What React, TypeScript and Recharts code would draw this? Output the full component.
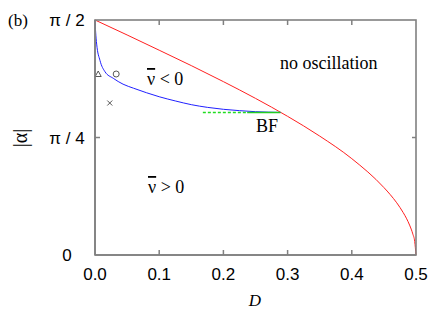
import { ComposedChart, Line, XAxis, YAxis } from 'recharts'

// red boundary (no oscillation limit)
const redD = [0, 0.05, 0.1, 0.15, 0.2, 0.25, 0.3, 0.35, 0.4, 0.45, 0.46, 0.47, 0.475, 0.48, 0.485, 0.49, 0.495, 0.498, 0.5]
const redA = [1.571, 1.471, 1.369, 1.266, 1.159, 1.047, 0.927, 0.795, 0.644, 0.451, 0.403, 0.349, 0.318, 0.284, 0.246, 0.2, 0.141, 0.09, 0]

// blue boundary (sign change of mean velocity)
const blueD = [0, 0.001, 0.0026, 0.0078, 0.0156, 0.0285, 0.0437, 0.06, 0.08, 0.1, 0.125, 0.15, 0.175, 0.2, 0.225, 0.25, 0.27, 0.289]
const blueA = [1.571, 1.49, 1.41, 1.3, 1.225, 1.181, 1.142, 1.115, 1.085, 1.058, 1.03, 1.005, 0.987, 0.974, 0.965, 0.958, 0.955, 0.953]

// bifurcation line
const bfDashD = [0.168, 0.237]
const bfSolidD = [0.237, 0.289]
const bfA = 0.953

// sample points
const triPt = { D: 0.005, a: 1.21 }
const circPt = { D: 0.033, a: 1.21 }
const crossPt = { D: 0.023, a: 1.016 }

const xTicks = [0, 0.1, 0.2, 0.3, 0.4, 0.5]
const yTicks = [0, Math.PI / 4, Math.PI / 2]
const yTickLabels = ['0', 'π / 4', 'π / 2']

const redData = redD.map((d, i) => ({ D: d, a: redA[i] }))
const blueData = blueD.map((d, i) => ({ D: d, a: blueA[i] }))
const bfDashData = bfDashD.map((d) => ({ D: d, a: bfA }))
const bfSolidData = bfSolidD.map((d) => ({ D: d, a: bfA }))

const W = 435
const H = 311
const M = { top: 20, right: 19, bottom: 16, left: 0 }
const Y_W = 95
const X_H = 40
const PLOT_W = W - M.left - M.right - Y_W
const PLOT_H = H - M.top - M.bottom - X_H

const AX = '#808080'
const SANS = '"Liberation Sans", Arial, sans-serif'
const SERIF = '"Liberation Serif", "Times New Roman", serif'
const MARK = '#444'

// bottom tick: label plus inward marks on both bottom and top edges
const BottomTick = (props: any) => {
  const { x, y, payload, index } = props
  const inner = index > 0 && index < xTicks.length - 1
  return (
    <g>
      {inner ? <line x1={x} y1={y} x2={x} y2={y - 5} stroke={AX} strokeWidth={1.5} /> : null}
      {inner ? <line x1={x} y1={y - PLOT_H} x2={x} y2={y - PLOT_H + 5} stroke={AX} strokeWidth={1.5} /> : null}
      <text x={x} y={y + 25} textAnchor="middle" fontFamily={SANS} fontSize={17} fill="#000">
        {payload.value.toFixed(1)}
      </text>
    </g>
  )
}

const LeftTick = (props: any) => {
  const { x, y, index } = props
  return (
    <g>
      {index === 1 ? <line x1={x} y1={y} x2={x + 5} y2={y} stroke={AX} strokeWidth={1.5} /> : null}
      {index === 1 ? <line x1={x + PLOT_W} y1={y} x2={x + PLOT_W - 4} y2={y} stroke={AX} strokeWidth={1.5} /> : null}
      <text x={x - 28} y={y + 6} textAnchor="middle" fontFamily={SANS} fontSize={17} fill="#000">
        {yTickLabels[index]}
      </text>
    </g>
  )
}

const Triangle = (props: any) => {
  const { cx, cy } = props
  return <path d={`M${cx},${cy - 3} L${cx + 3},${cy + 2.5} L${cx - 3},${cy + 2.5} Z`} fill="none" stroke={MARK} strokeWidth={0.9} />
}

const Circ = (props: any) => {
  const { cx, cy } = props
  return <circle cx={cx} cy={cy} r={3} fill="none" stroke={MARK} strokeWidth={0.9} />
}

const Cross = (props: any) => {
  const { cx, cy } = props
  return (
    <g stroke={MARK} strokeWidth={0.9}>
      <line x1={cx - 2.5} y1={cy - 2.5} x2={cx + 2.5} y2={cy + 2.5} />
      <line x1={cx - 2.5} y1={cy + 2.5} x2={cx + 2.5} y2={cy - 2.5} />
    </g>
  )
}

export default function App() {
  return (
    <div style={{ position: 'absolute', left: 0, top: 0, width: W, height: H, background: '#fff' }}>
      <ComposedChart width={W} height={H} margin={M}>
        <XAxis
          dataKey="D"
          type="number"
          domain={[0, 0.5]}
          ticks={xTicks}
          height={X_H}
          tickSize={0}
          tickMargin={0}
          tickLine={false}
          axisLine={{ stroke: AX, strokeWidth: 1.6 }}
          tick={<BottomTick />}
        />
        <YAxis
          type="number"
          domain={[0, Math.PI / 2]}
          ticks={yTicks}
          width={Y_W}
          tickSize={0}
          tickMargin={0}
          tickLine={false}
          axisLine={{ stroke: AX, strokeWidth: 1.6 }}
          tick={<LeftTick />}
        />
        <Line data={redData} type="monotone" dataKey="a" stroke="#ff2020" strokeWidth={1} dot={false} isAnimationActive={false} />
        <Line data={blueData} type="monotone" dataKey="a" stroke="#2020ff" strokeWidth={1} dot={false} isAnimationActive={false} />
        <Line data={bfDashData} dataKey="a" stroke="#22dd22" strokeWidth={1.5} strokeDasharray="3 2" dot={false} isAnimationActive={false} />
        <Line data={bfSolidData} dataKey="a" stroke="#22cc22" strokeWidth={1.5} dot={false} isAnimationActive={false} />
        <Line data={[triPt]} dataKey="a" stroke="none" dot={<Triangle />} isAnimationActive={false} />
        <Line data={[circPt]} dataKey="a" stroke="none" dot={<Circ />} isAnimationActive={false} />
        <Line data={[crossPt]} dataKey="a" stroke="none" dot={<Cross />} isAnimationActive={false} />
      </ComposedChart>
      <svg width={W} height={H} style={{ position: 'absolute', left: 0, top: 0, pointerEvents: 'none' }}>
        {/* plot frame (top and right edges) */}
        <rect x={M.left + Y_W} y={M.top} width={PLOT_W} height={PLOT_H} fill="none" stroke={AX} strokeWidth={1.6} />
        <text x={8} y={26} fontFamily={SERIF} fontSize={17} fill="#000">(b)</text>
        <text x={20} y={138} transform="rotate(-90 20 138)" textAnchor="middle" dominantBaseline="central" fontFamily={SERIF} fontSize={20} fill="#000">|α|</text>
        <text x={255} y={306} textAnchor="middle" fontFamily={SERIF} fontStyle="italic" fontSize={17} fill="#000">D</text>
        <text x={147} y={85} fontFamily={SERIF} fontSize={18} fill="#000">
          <tspan style={{ textDecoration: 'overline' }}>ν</tspan> &lt; 0
        </text>
        <text x={148} y={193} fontFamily={SERIF} fontSize={18} fill="#000">
          <tspan style={{ textDecoration: 'overline' }}>ν</tspan> &gt; 0
        </text>
        <text x={280} y={69} fontFamily={SERIF} fontSize={18} fill="#000">no oscillation</text>
        <text x={256} y={132} fontFamily={SERIF} fontSize={18} fill="#000">BF</text>
      </svg>
    </div>
  )
}
